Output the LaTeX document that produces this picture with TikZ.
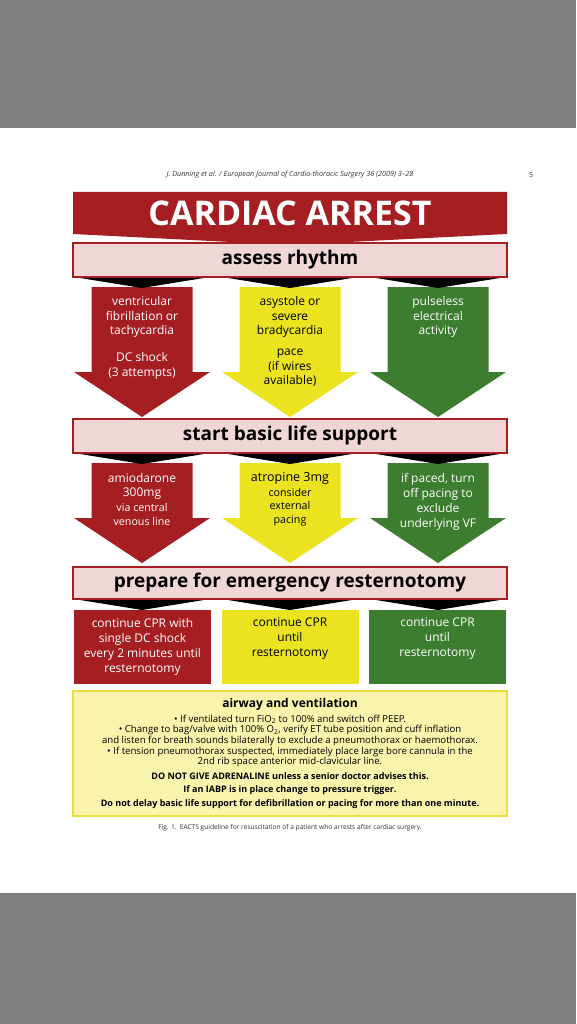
\documentclass[tikz,border=0pt]{standalone}
\usepackage{fontspec}
\setmainfont{Open Sans}
\definecolor{pagegray}{HTML}{7F7F7F}
\definecolor{cred}{HTML}{A51F22}
\definecolor{cyel}{HTML}{EBE320}
\definecolor{cgrn}{HTML}{3D7D2F}
\definecolor{cpink}{HTML}{F1D6D6}
\definecolor{cpale}{HTML}{FAF3AC}
\definecolor{cpaleb}{HTML}{E8DF3E}
\tikzset{
  pinkbox/.style={draw=cred, line width=1.3pt, fill=cpink, minimum width=434pt, inner sep=0pt, font=\fontsize{19}{22}\selectfont\bfseries, text=black},
  coltext/.style={align=center, inner sep=0pt, font=\fontsize{12}{14.5}\selectfont},
  smalltext/.style={align=center, inner sep=0pt, font=\fontsize{10.7}{13.5}\selectfont},
  botbox/.style={minimum width=137pt, minimum height=74pt, inner sep=0pt},
  shadow/.style={fill=black},
}
\newcommand\dnarrow[5]{%
  \fill[#5] ({#1-50.5},#2) -- ({#1+50.5},#2) -- ({#1+50.5},#3) -- ({#1+68},#3) -- (#1,#4) -- ({#1-68},#3) -- ({#1-50.5},#3) -- cycle;}
\newcommand\shadowtri[2]{%
  \fill[shadow] ({#1-68},#2) -- ({#1+68},#2) -- (#1,{#2+11}) -- cycle;}
\begin{document}
\begin{tikzpicture}[x=1pt,y=-1pt]
\useasboundingbox (0,0) rectangle (576,1024);
\fill[pagegray] (0,0) rectangle (576,1024);
\fill[white] (0,128) rectangle (576,893);
% header
\node[font=\fontsize{7.2}{8}\selectfont\itshape, text=black!80] (hdr) at (290,175) {J. Dunning et al. / European Journal of Cardio-thoracic Surgery 36 (2009) 3–28};
\node[font=\fontsize{7}{8}\selectfont, text=black!80] (pgno) at (531,175) {5};
% title
\fill[cred] (73,192) -- (507,192) -- (507,234) -- (290,245) -- (73,234) -- cycle;
\node[text=white, font=\fontsize{34}{37}\selectfont\bfseries] (title) at (290,213) {CARDIAC ARREST};
% row 1 arrows
\dnarrow{142}{287}{372}{417}{cred}
\dnarrow{290}{287}{372}{417}{cyel}
\dnarrow{438}{287}{372}{417}{cgrn}
\shadowtri{142}{277}\shadowtri{290}{277}\shadowtri{438}{277}
\node[pinkbox, minimum height=34pt] (assess) at (290,260) {assess rhythm};
\node[coltext, text=white] (vf) at (142,317) {ventricular\\fibrillation or\\tachycardia};
\node[coltext, text=white] (dc) at (142,366) {DC shock\\(3 attempts)};
\node[coltext, text=black] (asy) at (290,317) {asystole or\\severe\\bradycardia};
\node[coltext, text=black] (pace) at (290,368) {pace\\(if wires\\available)};
\node[coltext, text=white] (pea) at (438,317) {pulseless\\electrical\\activity};
% row 2 arrows
\dnarrow{142}{463}{518}{563}{cred}
\dnarrow{290}{463}{518}{563}{cyel}
\dnarrow{438}{463}{518}{563}{cgrn}
\shadowtri{142}{453}\shadowtri{290}{453}\shadowtri{438}{453}
\node[pinkbox, minimum height=34pt] (bls) at (290,436) {start basic life support};
\node[coltext, text=white] (amio) at (142,486.5) {amiodarone\\300mg};
\node[smalltext, text=white] (via) at (142,514.5) {via central\\venous line};
\node[coltext, text=black, font=\fontsize{12.5}{14.5}\selectfont] (atro) at (290,478) {atropine 3mg};
\node[smalltext, text=black] (cons) at (290,507) {consider\\external\\pacing};
\node[coltext, text=white, font=\fontsize{12}{15}\selectfont] (paced) at (438,501.5) {if paced, turn\\off pacing to\\exclude\\underlying VF};
% row 3
\shadowtri{142}{599}\shadowtri{290}{599}\shadowtri{438}{599}
\node[pinkbox, minimum height=32pt] (prep) at (290,583) {prepare for emergency resternotomy};
\node[botbox, fill=cred] (b1) at (142.5,647) {};
\node[botbox, fill=cyel] (b2) at (290,647) {};
\node[botbox, fill=cgrn] (b3) at (437.5,647) {};
\node[coltext, text=white, font=\fontsize{12}{15}\selectfont] (t1) at (b1.center) {continue CPR with\\single DC shock\\every 2 minutes until\\resternotomy};
\node[coltext, text=black, font=\fontsize{12}{15}\selectfont] (t2) at (290,639) {continue CPR\\until\\resternotomy};
\node[coltext, text=white, font=\fontsize{12}{15}\selectfont] (t3) at (437.5,639) {continue CPR\\until\\resternotomy};
% airway box
\node[draw=cpaleb, line width=1.5pt, fill=cpale, minimum width=434pt, minimum height=125pt, inner sep=0pt] (air) at (290,753.5) {};
\node[font=\fontsize{12}{14}\selectfont\bfseries] (airt) at (290,704) {airway and ventilation};
\node[align=center, inner sep=0pt, font=\fontsize{9.6}{10.6}\selectfont] (airb) at (290,741) {• If ventilated turn FiO\textsubscript{2} to 100\% and switch off PEEP.\\
• Change to bag/valve with 100\% O\textsubscript{2}, verify ET tube position and cuff inflation\\
and listen for breath sounds bilaterally to exclude a pneumothorax or haemothorax.\\
• If tension pneumothorax suspected, immediately place large bore cannula in the\\
2nd rib space anterior mid-clavicular line.};
\node[align=center, inner sep=0pt, font=\fontsize{9}{13.5}\selectfont\bfseries] (airw) at (290,790.5) {DO NOT GIVE ADRENALINE unless a senior doctor advises this.\\
If an IABP is in place change to pressure trigger.\\
Do not delay basic life support for defibrillation or pacing for more than one minute.};
% caption
\node[font=\fontsize{6.6}{8}\selectfont, text=black!80] (cap) at (290,828) {Fig. 1.\enspace EACTS guideline for resuscitation of a patient who arrests after cardiac surgery.};
\end{tikzpicture}
\end{document}
